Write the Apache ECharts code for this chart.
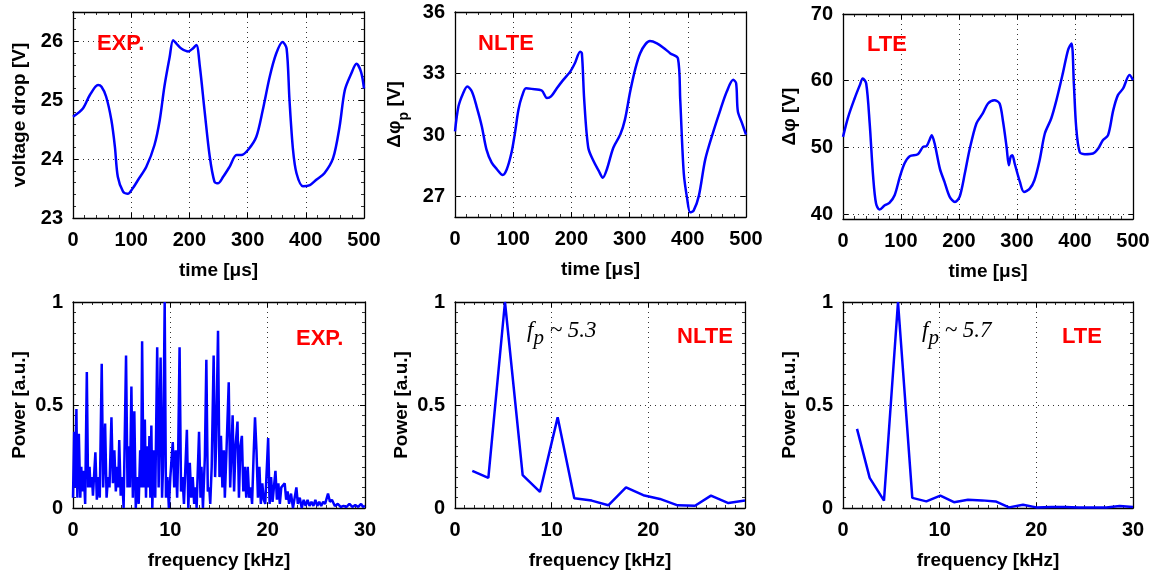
<!DOCTYPE html>
<html><head><meta charset="utf-8">
<script src="https://cdn.jsdelivr.net/npm/echarts@6/dist/echarts.min.js"></script>
<style>html,body{margin:0;padding:0;background:#fff}#c{width:1159px;height:576px}</style>
</head><body><div id="c"></div>
<script>
// ---------- data ----------
const timeExp = [0,17,29,43,49,57,66,72,77,86,94,103,112,126,140,149,157,166,172,178,186,198,206,212,218,226,235,243,249,258,269,281,289,301,315,326,338,349,360,367,372,378,384,395,407,418,432,447,458,467,478,487,495,500];
const voltExp = [24.72,24.86,25.09,25.26,25.23,25.06,24.66,24.21,23.70,23.45,23.41,23.51,23.65,23.87,24.24,24.66,25.23,25.73,26.02,25.96,25.88,25.83,25.88,25.94,25.57,24.83,24.04,23.62,23.59,23.70,23.87,24.07,24.07,24.16,24.38,24.83,25.40,25.79,25.99,25.88,25.00,24.16,23.76,23.54,23.56,23.65,23.76,24.02,24.55,25.17,25.45,25.62,25.48,25.20];

const timeNlte = [0,6,14,21,29,37,46,54,63,72,82,89,97,103,109,115,122,132,149,158,165,175,186,198,206,215,218,222,229,238,247,254,261,272,284,292,301,310,318,327,335,347,358,370,383,387,393,399,404,410,419,430,444,456,467,478,483,486,493,500];
const phiNlte = [30.18,31.40,32.04,32.37,32.12,31.40,30.43,29.30,28.65,28.33,28.05,28.33,29.13,30.10,31.23,31.88,32.28,32.25,32.17,31.80,31.88,32.28,32.69,33.09,33.50,34.06,33.98,31.72,29.38,28.73,28.25,27.92,28.33,29.38,30.02,30.75,32.12,33.25,33.98,34.42,34.58,34.47,34.26,33.98,33.74,31.72,28.16,26.87,26.23,26.31,27.03,28.81,30.18,31.23,32.12,32.69,32.53,31.15,30.59,30.02];

const timeLte = [0,9,20,29,34,40,46,52,57,63,72,80,89,98,106,115,129,138,144,149,153,158,167,175,184,193,201,210,218,230,241,250,261,270,276,282,286,289,292,296,305,312,322,330,339,348,359,368,379,388,394,398,402,408,417,431,440,448,457,466,474,483,494,500];
const phiLte = [51.57,54.58,57.33,59.33,60.34,59.58,53.58,45.56,41.56,40.66,41.31,41.66,42.81,45.56,47.57,48.67,48.97,50.07,50.17,51.07,51.82,50.57,46.81,44.81,42.56,41.81,42.56,46.06,49.57,53.58,55.08,56.58,57.08,56.58,53.83,50.07,47.32,48.57,48.82,47.57,44.81,43.31,43.81,45.06,48.07,52.07,54.33,57.08,61.09,64.59,65.59,59.58,53.08,49.32,48.97,49.07,49.82,51.07,51.82,55.58,57.83,58.83,60.84,60.09];

const freqExp = [
 0,0.12,0.2,0.35,0.45,0.6,0.75,0.85,0.95,
 1.1,1.25,1.42,1.55,1.7,1.8,1.95,
 2.05,2.3,2.45,2.6,2.75,2.95,3.1,3.3,3.45,
 3.6,3.75,3.95,4.1,4.25,4.4,4.55,4.65,4.75,4.9,5.05,5.2,
 5.45,5.6,5.75,5.85,6.0,6.15,6.3,6.45,6.6,6.75,6.9,7.0,
 7.1,7.25,7.38,7.5,7.6,7.75,7.85,7.95,8.05,8.15,8.3,8.45,
 8.65,8.8,9.0,9.15,9.25,9.42,9.55,9.7,9.85,10.0,
 10.25,10.4,10.55,10.7,10.8,10.95,11.1,11.25,11.4,11.55,11.7,11.85,12.0,
 12.15,12.3,12.45,12.6,12.7,12.8,12.95,13.1,13.2,13.35,
 13.55,13.7,13.85,14.0,14.1,14.25,14.45,14.6,14.7,14.9,15.05,15.2,15.35,15.5,
 15.6,15.75,16.0,16.15,16.4,16.55,16.7,16.9,17.05,17.2,17.35,17.5,17.65,17.8,17.95,
 18.1,18.25,18.4,18.55,18.7,18.85,19.0,19.15,19.3,19.45,19.6,19.75,20.05,
 20.2,20.35,20.5,20.8,20.95,21.1,21.25,21.4,21.75,21.9,22.05,22.2,22.4,22.6,22.95,23.1,
 23.3,23.5,23.7,23.9,24.1,24.3,24.5,24.7,24.9,25.1,25.3,25.5,25.7,25.9,26.2,26.4,26.6,26.9,27.2,27.5,27.8,28.1,28.4,28.7,29.0,29.3,29.6,29.8,30.0];
const powerExp = [
 0.05,0.37,0.1,0.48,0.05,0.36,0.05,0.2,0.08,
 0.18,0.02,0.66,0.1,0.2,0.1,0.15,
 0.06,0.27,0.04,0.15,0.05,0.7,0.1,0.41,0.05,
 0.15,0.1,0.44,0.12,0.28,0.08,0.2,0.1,0.33,0.06,0.15,0.0,
 0.74,0.1,0.3,0.1,0.59,0.05,0.47,0.0,0.15,0.02,0.28,0.1,
 0.81,0.1,0.43,0.05,0.3,0.1,0.35,0.05,0.4,0.0,0.28,0.05,
 0.78,0.1,0.73,0.05,0.2,1.0,0.05,0.15,0.0,0.15,
 0.32,0.1,0.28,0.05,0.25,0.78,0.08,0.15,0.02,0.2,0.38,0.0,0.22,
 0.05,0.15,0.02,0.1,0.0,0.15,0.37,0.05,0.2,0.0,
 0.25,0.72,0.08,0.1,0.02,0.2,0.74,0.15,0.3,0.86,0.15,0.35,0.1,0.28,
 0.05,0.25,0.61,0.1,0.45,0.08,0.3,0.42,0.05,0.3,0.35,0.08,0.2,0.05,0.2,
 0.05,0.1,0.02,0.25,0.44,0.28,0.05,0.2,0.02,0.12,0.04,0.02,0.34,
 0.02,0.15,0.03,0.18,0.04,0.12,0.02,0.1,0.12,0.04,0.08,0.02,0.07,0.0,0.1,0.02,
 0.05,0.0,0.04,0.01,0.04,0.01,0.03,0.01,0.04,0.01,0.03,0.01,0.03,0.02,0.07,0.03,0.04,0.01,0.02,0.005,0.01,0.005,0.02,0.005,0.015,0.005,0.02,0.005,0.01];

const freqNlte = [1.79,3.45,5.17,7.0,8.79,10.62,12.34,14.14,15.86,17.69,19.48,21.2,23.03,24.83,26.48,28.28,30.0];
const powerNlte = [0.18,0.146,1.0,0.16,0.078,0.44,0.047,0.036,0.013,0.10,0.062,0.044,0.013,0.011,0.06,0.024,0.036];

const freqLte = [1.45,2.76,4.24,5.69,7.17,8.62,10.07,11.48,12.93,14.38,15.79,17.17,18.62,20.0,21.55,22.93,24.41,25.86,27.24,28.62,30.0];
const powerLte = [0.384,0.146,0.036,1.0,0.049,0.032,0.06,0.028,0.04,0.037,0.032,0.003,0.016,0.003,0.005,0.005,0.002,0.002,0.002,0.01,0.005];

const timeTicks = [0,100,200,300,400,500];
const freqTicks = [0,10,20,30];
const powerTicks = [0,0.5,1];
const voltTicks = [23,24,25,26];
const nlteTicks = [27,30,33,36];
const lteTicks = [40,50,60,70];

// ---------- layout / style ----------
const FONT = '"Liberation Sans", Arial, sans-serif';
const grids = [
  {left:73, top:12, width:291, height:206},
  {left:455, top:12, width:291, height:205},
  {left:843, top:14, width:290, height:205},
  {left:73, top:302, width:292, height:206},
  {left:455, top:302, width:290, height:206},
  {left:843, top:302, width:290, height:206}
];
const gridLineStyle = {color:'#333', type:[1,4], width:1};
const labelStyle = {fontFamily:FONT, fontWeight:'bold', fontSize:20, color:'#000'};
const nameStyle = {fontFamily:FONT, fontWeight:'bold', fontSize:19, color:'#000'};

function axisCommon(gi, min, max, interval, ticks, minorSplit, showGrid, margin) {
  const o = {
    gridIndex: gi, type:'value', min, max,
    axisLine:{show:true, onZero:false, lineStyle:{color:'#000', width:1.3}},
    axisTick:{show:true, inside:true, length:5, customValues:ticks, lineStyle:{color:'#000', width:1}},
    minorTick:{show: minorSplit>0, splitNumber: minorSplit||5, length:3, lineStyle:{color:'#000', width:0.8}},
    axisLabel:{show:true, customValues:ticks, margin:margin, ...labelStyle},
    splitLine:{show: showGrid, lineStyle: gridLineStyle}
  };
  if (interval != null) o.interval = interval;
  return o;
}
function xPair(gi, min, max, interval, ticks, minorSplit, name) {
  const b = axisCommon(gi, min, max, interval, ticks, minorSplit, true, 12);
  b.position = 'bottom';
  b.name = name; b.nameLocation = 'middle'; b.nameGap = 43; b.nameTextStyle = nameStyle;
  const t = axisCommon(gi, min, max, interval, ticks, minorSplit, false, 12);
  t.position = 'top'; t.axisLabel = {show:false};
  return [b, t];
}
function yPair(gi, min, max, interval, ticks, minorSplit, name, showGrid, rich) {
  const l = axisCommon(gi, min, max, interval, ticks, minorSplit, showGrid, 10);
  l.position = 'left';
  l.name = name; l.nameLocation = 'middle'; l.nameGap = 44;
  l.nameTextStyle = rich ? {...nameStyle, rich} : nameStyle;
  const r = axisCommon(gi, min, max, interval, ticks, minorSplit, false, 10);
  r.position = 'right'; r.axisLabel = {show:false};
  return [l, r];
}

const subRich = {
  a:{fontFamily:FONT, fontWeight:'bold', fontSize:19, color:'#000', lineHeight:26, verticalAlign:'top'},
  b:{fontFamily:FONT, fontWeight:'bold', fontSize:14, color:'#000', lineHeight:12, verticalAlign:'bottom'}
};

const xAxes = [
  ...xPair(0,0,500,100,timeTicks,5,'time [μs]'),
  ...xPair(1,0,500,100,timeTicks,5,'time [μs]'),
  ...xPair(2,0,500,100,timeTicks,5,'time [μs]'),
  ...xPair(3,0,30,10,freqTicks,10,'frequency [kHz]'),
  ...xPair(4,0,30,10,freqTicks,10,'frequency [kHz]'),
  ...xPair(5,0,30,10,freqTicks,10,'frequency [kHz]')
];
const yAxes = [
  ...yPair(0,23,26.5,1,voltTicks,5,'voltage drop [V]',true),
  ...yPair(1,26,36,1,nlteTicks,0,'{a|Δφ}{b|p}{a| [V]}',false,subRich),
  ...yPair(2,39.25,70,null,lteTicks,0,'Δφ [V]',false),
  ...yPair(3,0,1,0.5,powerTicks,10,'Power [a.u.]',true),
  ...yPair(4,0,1,0.5,powerTicks,10,'Power [a.u.]',true),
  ...yPair(5,0,1,0.5,powerTicks,10,'Power [a.u.]',true)
];

function zip(a, b) { return a.map((v, i) => [v, b[i]]); }
function gridMark(values) {
  return {silent:true, symbol:['none','none'], label:{show:false},
    lineStyle:gridLineStyle, emphasis:{disabled:true},
    data: values.map(v => ({yAxis:v}))};
}
function lineSeries(gi, data, smooth, mark) {
  const s = {type:'line', xAxisIndex:gi*2, yAxisIndex:gi*2, data, showSymbol:false, symbol:'none',
    smooth: smooth, lineStyle:{color:'#0000ff', width:2.5}, itemStyle:{color:'#0000ff'}, z:3, clip:true};
  if (mark) s.markLine = mark;
  return s;
}
const series = [
  lineSeries(0, zip(timeExp, voltExp), 0.3),
  lineSeries(1, zip(timeNlte, phiNlte), 0.3, gridMark([27,30,33])),
  lineSeries(2, zip(timeLte, phiLte), 0.3, gridMark([40,50,60])),
  lineSeries(3, zip(freqExp, powerExp), false),
  lineSeries(4, zip(freqNlte, powerNlte), false),
  lineSeries(5, zip(freqLte, powerLte), false)
];

const redText = (x, y, t) => ({type:'text', left:x, top:y, z:10,
  style:{text:t, fill:'#ff0000', fontFamily:FONT, fontWeight:'bold', fontSize:22}});
const SERIF = '"Liberation Serif", "Times New Roman", serif';
const fpRich = {
  i:{fontFamily:SERIF, fontStyle:'italic', fontSize:23, fill:'#000', lineHeight:30, verticalAlign:'top'},
  s:{fontFamily:SERIF, fontStyle:'italic', fontSize:21, fill:'#000', lineHeight:14, verticalAlign:'bottom'}
};
const fpText = (x, y, v) => ({type:'text', left:x, top:y, z:10,
  style:{text:'{i|f}{s|p}{i| ~ ' + v + '}', rich:fpRich}});

const option = {
  animation:false,
  backgroundColor:'#fff',
  grid: grids.map(g => ({...g, containLabel:false})),
  xAxis: xAxes,
  yAxis: yAxes,
  series,
  graphic: [
    redText(97, 33, 'EXP.'), redText(478, 33, 'NLTE'), redText(867, 34, 'LTE'),
    redText(296, 328, 'EXP.'), redText(677, 326, 'NLTE'), redText(1062, 326, 'LTE'),
    fpText(527, 319, '5.3'), fpText(922, 319, '5.7')
  ]
};
const chart = echarts.init(document.getElementById('c'), null, {renderer:'canvas'});
chart.setOption(option);
</script></body></html>
